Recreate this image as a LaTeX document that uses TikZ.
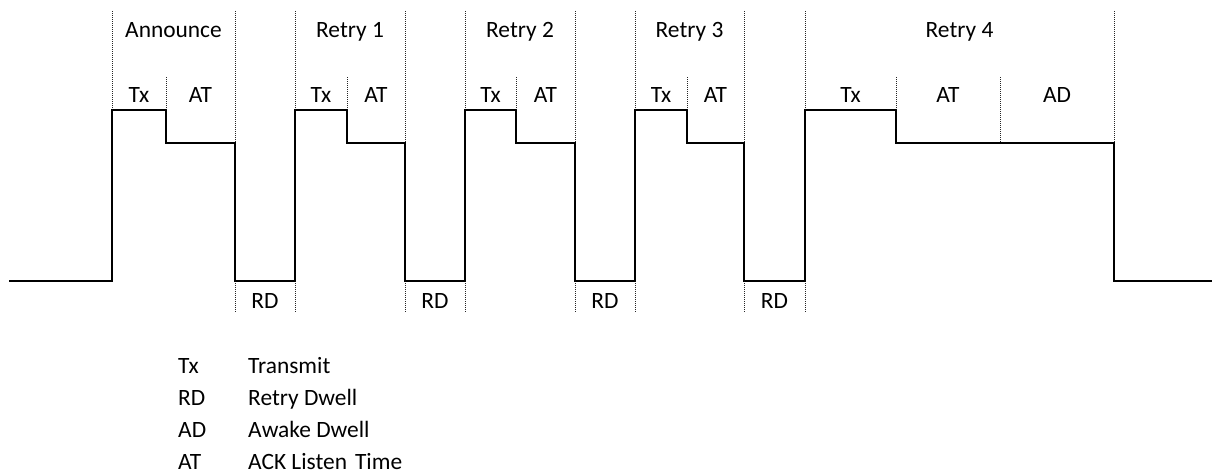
\documentclass[tikz,border=0pt]{standalone}
\usepackage{fontspec}
\setmainfont{Carlito}
\begin{document}
\begin{tikzpicture}[x=1pt,y=-1pt,
  lbl/.style={anchor=base,inner sep=0pt,font=\fontsize{23.4}{28}\selectfont},
  leg/.style={anchor=base west,inner sep=0pt,font=\fontsize{23.4}{28}\selectfont},
  wave/.style={line width=1.5pt,line join=miter},
  guide/.style={line width=1pt,dash pattern=on 1pt off 1pt,black!85}]
\useasboundingbox[fill=white] (0,0) rectangle (1212,475);
% guides from top
\foreach \x/\y in {112/110,235/143,295/110,405/143,465/110,575/143,635/110,744/143,805/110,1114/143}
  \draw[guide] (\x,11) -- (\x,\y);
% sub dividers
\foreach \x/\y in {166/110,347/110,516/110,687/110,896/110,1000/143}
  \draw[guide] (\x,77) -- (\x,\y);
% bottom guides
\foreach \x in {235,295,405,465,575,635,744,805}
  \draw[guide] (\x,281) -- (\x,313);
% waveform
\draw[wave] (9,281)--(112,281)--(112,110)--(166,110)--(166,143)--(235,143)--(235,281)--(295,281)--(295,110)--(347,110)--(347,143)--(405,143)--(405,281)--(465,281)--(465,110)--(516,110)--(516,143)--(575,143)--(575,281)--(635,281)--(635,110)--(687,110)--(687,143)--(744,143)--(744,281)--(805,281)--(805,110)--(896,110)--(896,143)--(1114,143)--(1114,281)--(1212,281);
% group titles
\node[lbl] (ann) at (173.5,37) {Announce};
\node[lbl] (r1) at (350,37) {Retry 1};
\node[lbl] (r2) at (520,37) {Retry 2};
\node[lbl] (r3) at (689.5,37) {Retry 3};
\node[lbl] (r4) at (959.5,37) {Retry 4};
% phase labels
\node[lbl] (tx0) at (139,102) {Tx};
\node[lbl] (at0) at (200.5,102) {AT};
\node[lbl] (tx1) at (321,102) {Tx};
\node[lbl] (at1) at (376,102) {AT};
\node[lbl] (tx2) at (490.5,102) {Tx};
\node[lbl] (at2) at (545.5,102) {AT};
\node[lbl] (tx3) at (661,102) {Tx};
\node[lbl] (at3) at (715.5,102) {AT};
\node[lbl] (tx4) at (850.5,102) {Tx};
\node[lbl] (at4) at (948,102) {AT};
\node[lbl] (ad4) at (1057,102) {AD};
\node[lbl] (rd1) at (265,308) {RD};
\node[lbl] (rd2) at (435,308) {RD};
\node[lbl] (rd3) at (605,308) {RD};
\node[lbl] (rd4) at (774.5,308) {RD};
% legend
\node[leg] (k1) at (178,373) {Tx};
\node[leg] (v1) at (248,373) {Transmit};
\node[leg] (k2) at (178,405) {RD};
\node[leg] (v2) at (248,405) {Retry Dwell};
\node[leg] (k3) at (178,437) {AD};
\node[leg] (v3) at (248,437) {Awake Dwell};
\node[leg] (k4) at (178,469) {AT};
\node[leg] (v4) at (248,469) {ACK Listen\hspace{8pt}Time};
\end{tikzpicture}
\end{document}
